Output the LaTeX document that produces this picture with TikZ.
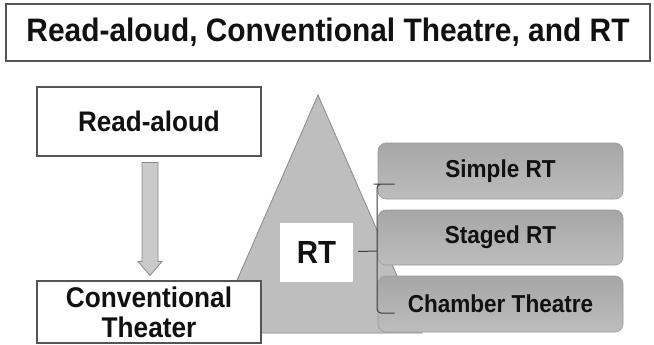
\documentclass[tikz,border=0pt]{standalone}
\usepackage{fontspec}
\setmainfont{Liberation Sans}[FakeStretch=0.92]
\usepackage{tikz}
\usetikzlibrary{arrows.meta,positioning,calc}
\definecolor{ink}{HTML}{111111}
\definecolor{frame}{HTML}{555555}
\definecolor{edge}{HTML}{8A8A8A}
\definecolor{pyr}{HTML}{BEBEBE}
\definecolor{shaft}{HTML}{CACACA}
\definecolor{boxtop}{HTML}{A6A6A6}
\definecolor{boxbot}{HTML}{BDBDBD}
\definecolor{boxline}{HTML}{9A9A9A}
\definecolor{brace}{HTML}{3C3C3C}
\tikzset{
  base/.style={align=center, inner sep=0pt, text=ink, font=\bfseries},
  plain/.style={base, fill=white, draw=frame, line width=1.1pt, minimum width=224pt},
  kind/.style={base, rounded corners=8pt, top color=boxtop, bottom color=boxbot, draw=boxline, line width=0.6pt,
    minimum width=245pt, minimum height=56pt, font=\fontsize{24.5}{26}\selectfont\bfseries},
  blockarr/.style={fill=shaft, draw=edge, line width=0.8pt, line join=miter},
  brk/.style={draw=brace, line width=1pt, rounded corners=4pt},
}
\begin{document}
\begin{tikzpicture}[x=1pt, y=-1pt]
  \useasboundingbox[fill=white] (0,0) rectangle (654,345);
  % title
  \node[plain, minimum width=644pt, minimum height=57pt, font=\fontsize{32.5}{34}\selectfont\bfseries] (title) at (328,32.5)
    {Read-aloud, Conventional Theatre, and RT};
  % pyramid behind everything
  \coordinate (apex) at (318,95);
  \coordinate (baseL) at (214,333);
  \coordinate (baseR) at (422,333);
  \fill[pyr, draw=edge, line width=0.8pt] (apex) -- (baseR) -- (baseL) -- cycle;
  % left column
  \node[plain, minimum height=69pt, font=\fontsize{28.3}{30}\selectfont\bfseries] (read) at (149,121.5) {Read-aloud};
  \node[plain, minimum height=62pt, font=\fontsize{28.5}{30}\selectfont\bfseries] (conv) at (149,312) {Conventional\\Theater};
  \draw[blockarr] ($(read.south)+(-7,6)$) -- ($(conv.north)+(-7,-19)$) -- ($(conv.north)+(-11,-19)$)
    -- ($(conv.north)+(1,-5)$) -- ($(conv.north)+(13,-19)$) -- ($(conv.north)+(9,-19)$)
    -- ($(read.south)+(9,6)$) -- cycle;
  % kinds of RT
  \node[kind] (simple) at (500.5,171) {Simple RT};
  \node[kind, minimum height=55pt] (staged) at (500.5,237.5) {Staged RT};
  \node[kind] (chamber) at (500.5,304) {Chamber Theatre};
  \node[base, fill=white, minimum width=73pt, minimum height=59pt, font=\fontsize{32}{34}\selectfont\bfseries] (rt) at (316.5,252.5) {RT};
  % bracket
  \coordinate (fork) at (377,251);
  \draw[brk] ($(rt.east)+(5,-1)$) -- (fork);
  \draw[brk] ($(simple.west)+(17,13)$) -- (simple.west |- 0,184) -- (fork |- 0,184) -- (fork |- chamber.west) -- (fork |- 0,313) -- ($(chamber.west)+(17,9)$);
\end{tikzpicture}
\end{document}
